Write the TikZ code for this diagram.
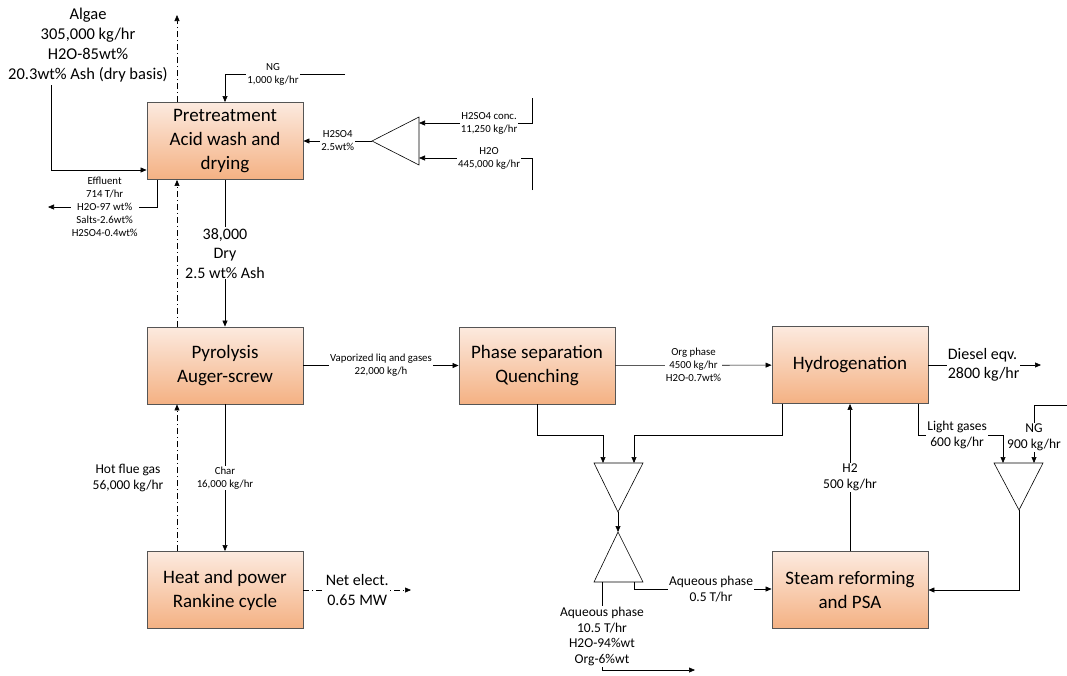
\documentclass[tikz,border=0pt]{standalone}
\usepackage{fontspec}
\setmainfont{Carlito}
\usetikzlibrary{arrows.meta,positioning}

\definecolor{boxtop}{HTML}{FCEADF}
\definecolor{boxbot}{HTML}{F4B183}
\definecolor{boxline}{HTML}{555555}

\tikzset{
  unit/.style={draw=boxline, line width=0.9pt, top color=boxtop, bottom color=boxbot,
    minimum width=156pt, minimum height=77pt, inner sep=0pt, align=center,
    font=\fontsize{19}{24}\selectfont},
  tag/.style={fill=white, inner sep=1pt, align=center, font=\fontsize{10.8}{13}\selectfont},
  midtag/.style={tag, font=\fontsize{13.5}{15.5}\selectfont},
  bigtag/.style={tag, font=\fontsize{16}{19.5}\selectfont},
  flow/.style={line width=0.6pt, -{Triangle[length=6pt,width=5pt]}},
  heat/.style={flow, dash pattern=on 6pt off 3pt on 1pt off 3pt},
  mixer/.style={line width=0.6pt}
}

\begin{document}
\begin{tikzpicture}[x=1pt,y=-1pt]
 \useasboundingbox (0,0) rectangle (1067,675);

 % Units
 \node[unit] (pre) at (225,141) {Pretreatment\\Acid wash and\\drying};
 \node[unit] (pyr) at (225,365.5) {Pyrolysis\\Auger-screw};
 \node[unit] (chp) at (225,590) {Heat and power\\Rankine cycle};
 \node[unit] (sep) at (537,365.5) {Phase separation\\Quenching};
 \node[unit] (hyd) at (850,365) {Hydrogenation};
 \node[unit] (smr) at (850,590) {Steam reforming\\and PSA};

 % Mixers / splitters
 \coordinate (acidA) at (419,117); \coordinate (acidB) at (419,165); \coordinate (acid) at (372,141);
 \draw[mixer] (acidA) -- (acidB) -- (acid) -- cycle;
 \coordinate (mixA) at (594,463); \coordinate (mixB) at (643,463); \coordinate (mix) at (618,512);
 \draw[mixer] (mixA) -- (mixB) -- (mix) -- cycle;
 \coordinate (splA) at (594,582); \coordinate (splB) at (643,582); \coordinate (spl) at (618,532);
 \draw[mixer] (splA) -- (splB) -- (spl) -- cycle;
 \coordinate (fuelA) at (994,463); \coordinate (fuelB) at (1043,463); \coordinate (fuel) at (1019,510);
 \draw[mixer] (fuelA) -- (fuelB) -- (fuel) -- cycle;

 % Feed
 \node[bigtag, font=\fontsize{16.5}{20}\selectfont] (algae) at (88,45) {Algae\\305,000 kg/hr\\H2O-85wt\%\\20.3wt\% Ash (dry basis)};
 \coordinate (algaeIn) at (51,85);
 \draw[flow] (algaeIn) |- ([yshift=-29pt]pre.west);

 % Natural gas to dryer
 \coordinate (ngA) at (345,74);
 \coordinate (ngB) at (225,74);
 \draw[flow] (ngA) -- (ngB) node[tag, pos=0.6] (ngLbl) {NG\\1,000 kg/hr} -- (pre.north);

 % Acid make-up
 \coordinate (acidIn) at (532,98);
 \coordinate (acidEnd) at (419,123);
 \coordinate (waterIn) at (532,190);
 \coordinate (waterEnd) at (419,158);
 \draw[flow] (acidIn) |- (acidEnd) node[tag, pos=0.69] (acidLbl) {H2SO4 conc.\\11,250 kg/hr};
 \draw[flow] (waterIn) |- (waterEnd) node[tag, pos=0.69] (waterLbl) {H2O\\445,000 kg/hr};
 \draw[flow] (acid) -- (pre.east) node[tag, midway] (dilLbl) {H2SO4\\2.5wt\%};

 % Effluent
 \coordinate (effOut) at (48,207);
 \draw[flow] ([xshift=-68pt]pre.south) |- (effOut) node[tag, pos=0.74] (effLbl) {Effluent\\714 T/hr\\H2O-97 wt\%\\Salts-2.6wt\%\\H2SO4-0.4wt\%};

 % Dry algae
 \draw[flow] (pre) -- (pyr) node[bigtag, midway] (dryLbl) {38,000\\Dry\\2.5 wt\% Ash};

 % Char
 \draw[flow] (pyr) -- (chp) node[tag, midway] (charLbl) {Char\\16,000 kg/hr};

 % Hot flue gas
 \coordinate (fluTop) at (177,15);
 \draw[heat] ([xshift=-48pt]chp.north) -- ([xshift=-48pt]pyr.south);
 \draw[heat] ([xshift=-48pt]pyr.north) -- ([xshift=-48pt]pre.south);
 \draw[heat] ([xshift=-48pt]pre.north) -- (fluTop);
 \node[midtag, fill=none] (fluLbl) at (128,478) {Hot flue gas\\56,000 kg/hr};

 % Power
 \coordinate (elecOut) at (411,590);
 \draw[heat] (chp.east) -- (elecOut) node[bigtag, midway] (elecLbl) {Net elect.\\0.65 MW};

 % Vapours
 \draw[flow] (pyr) -- (sep) node[tag, midway] (vapLbl) {Vaporized liq and gases\\22,000 kg/h};

 % Oil
 \draw[flow] (sep) -- (hyd) node[tag, midway] (oilLbl) {Org phase\\4500 kg/hr\\H2O-0.7wt\%};

 % Product
 \coordinate (dslOut) at (1041,365);
 \draw[flow] (hyd.east) -- (dslOut) node[bigtag, pos=0.49, align=left] (dslLbl) {Diesel eqv.\\2800 kg/hr};

 % Water to mixer
 \coordinate (wA) at (603,435); \coordinate (wB) at (634,435);
 \draw[flow] (sep.south) |- (wA) -- (wA |- mixA);
 \draw[flow] ([xshift=-68pt]hyd.south) |- (wB) -- (wB |- mixB);
 \draw[flow] (mix) -- (spl);

 % Aqueous outlets
 \coordinate (aqA) at (602,582); \coordinate (aqB) at (634,582);
 \coordinate (aqOut) at (695,670);
 \draw[flow] (aqA) |- (aqOut) node[midtag, pos=0.31] (aqLbl) {Aqueous phase\\10.5 T/hr\\H2O-94\%wt\\Org-6\%wt};
 \draw[flow] (aqB) |- ([yshift=1pt]smr.west) node[midtag, pos=0.78] (aqSmrLbl) {Aqueous phase\\0.5 T/hr};

 % Hydrogen
 \draw[flow] (smr) -- (hyd) node[midtag, midway] (h2Lbl) {H2\\500 kg/hr};

 % Fuel gases
 \coordinate (lgA) at (1003,435);
 \draw[flow] ([xshift=68pt]hyd.south) |- (lgA) node[midtag, pos=0.73] (lgLbl) {Light gases\\600 kg/hr} -- (lgA |- fuelA);
 \coordinate (ngC) at (1067,405);
 \coordinate (ngD) at (1034,463);
 \draw[flow] (ngC) -| (ngD) node[midtag, pos=0.78] (ng2Lbl) {NG\\900 kg/hr};
 \draw[flow] (fuel) |- (smr.east);
\end{tikzpicture}
\end{document}
